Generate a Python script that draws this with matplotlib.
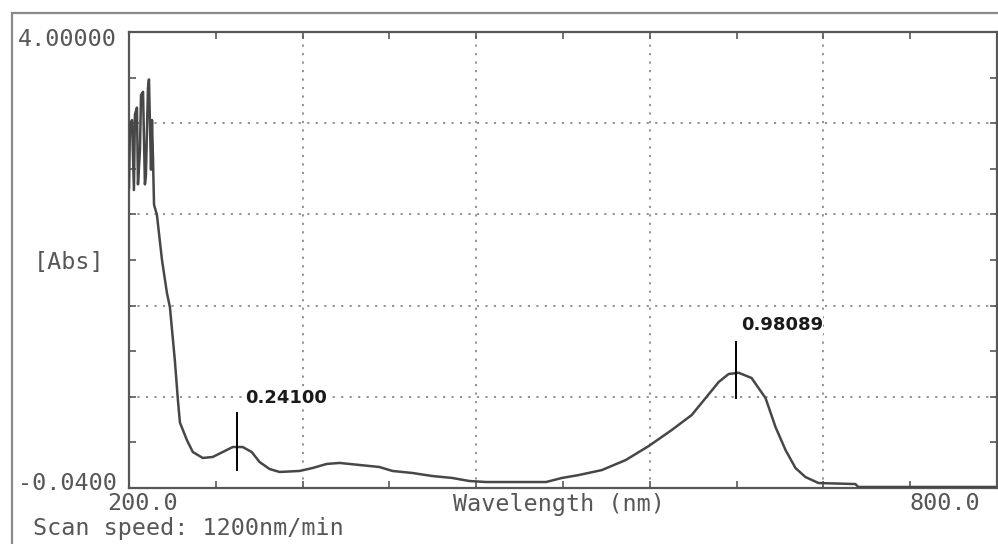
import numpy as np
import matplotlib
matplotlib.use('Agg')
import matplotlib.pyplot as plt
from matplotlib.patches import Rectangle

# ── spectrum ────────────────────────────────────
wavelength = [200.0, 200.7, 202.1, 203.4, 204.1, 205.5, 206.2, 207.6, 208.3, 209.7,
              211.0, 211.7, 213.1, 213.8, 215.2, 215.9, 216.6, 217.3, 219.3,
              222.8, 226.2, 228.3, 231.7, 233.8, 235.2, 240.0, 244.1, 251.0,
              257.9, 264.8, 271.7, 278.6, 284.8, 290.3, 297.2, 304.1, 317.9,
              326.9, 336.6, 345.5, 359.3, 373.1, 382.1, 395.9, 409.7, 423.4,
              435.2, 446.9, 464.8, 488.3, 499.3, 511.0, 526.9, 543.4, 559.3,
              575.2, 589.0, 598.6, 607.6, 614.5, 621.4, 630.3, 640.0, 646.9,
              653.8, 660.7, 667.6, 676.6, 702.1, 704.1, 798.6]
absorbance = [2.62, 3.18, 3.22, 2.60, 3.27, 3.33, 2.65, 2.96, 3.44, 3.47,
              2.65, 2.73, 3.50, 3.58, 2.78, 3.22, 2.87, 2.47, 2.38,
              1.98, 1.69, 1.56, 1.09, 0.74, 0.54, 0.385, 0.279, 0.226,
              0.235, 0.279, 0.323, 0.323, 0.279, 0.190, 0.128, 0.102, 0.111,
              0.137, 0.173, 0.182, 0.164, 0.146, 0.111, 0.093, 0.066, 0.049,
              0.022, 0.013, 0.013, 0.013, 0.049, 0.075, 0.119, 0.208, 0.332,
              0.474, 0.607, 0.757, 0.899, 0.970, 0.981, 0.935, 0.757, 0.500,
              0.297, 0.137, 0.057, 0.004, -0.005, -0.031, -0.031]

# peak markers: (wavelength, line bottom, line top, label)
peak_wl = [274.5, 619.3]
peak_lo = [0.12, 0.757]
peak_hi = [0.624, 1.254]
peak_labels = ['0.24100', '0.98089']
label_pos = [(280.0, 0.757), (622.8, 1.404)]

x_min, x_max = 200.0, 800.0
y_min, y_max = -0.04, 4.0

GRAY = '#575757'
MONO = 'DejaVu Sans Mono'
FS = 16.8

fig = plt.figure(figsize=(9.98, 5.44), dpi=100)
fig.patch.set_facecolor('white')

# outer instrument frame
fig.patches.append(Rectangle((12 / 998, -0.1), 1.2, 1 - 13 / 544 + 0.1,
                             transform=fig.transFigure, fill=False,
                             edgecolor='#8a8a8a', linewidth=1.6))

ax = fig.add_axes([129 / 998, 1 - 488 / 544, 868 / 998, 456 / 544])
ax.set_xlim(x_min, x_max)
ax.set_ylim(y_min, y_max)

ax.set_xticks(np.linspace(x_min, x_max, 6))
ax.set_xticks(np.linspace(x_min, x_max, 11), minor=True)
ax.set_yticks(np.linspace(y_min, y_max, 6))
ax.set_yticks(np.linspace(y_min, y_max, 11), minor=True)
ax.tick_params(which='both', direction='in', top=True, right=True,
               labelbottom=False, labelleft=False, length=5,
               width=1.2, color=GRAY)
ax.grid(True, which='major', color='#8a8a8a', linestyle=(0, (1.2, 3.5)),
        linewidth=1.3)
for spine in ax.spines.values():
    spine.set_edgecolor(GRAY)
    spine.set_linewidth(1.6)

ax.plot(wavelength, absorbance, color='#474747', linewidth=1.8, zorder=3)

for wl, lo, hi in zip(peak_wl, peak_lo, peak_hi):
    ax.plot([wl, wl], [lo, hi], color='black', linewidth=1.4, zorder=4)
for lab, (lx, ly) in zip(peak_labels, label_pos):
    ax.text(lx, ly, lab, fontsize=13, fontweight='bold', color='#1a1a1a',
            ha='left', va='center', zorder=5,
            bbox=dict(facecolor='white', edgecolor='none', pad=0.5))

# instrument-style axis annotations
fig.text(18 / 998, 1 - 40 / 544, '4.00000', family=MONO, fontsize=FS,
         color=GRAY, ha='left', va='center')
fig.text(18 / 998, 1 - 483 / 544, '-0.0400', family=MONO, fontsize=FS,
         color=GRAY, ha='left', va='center')
fig.text(34 / 998, 1 - 262 / 544, '[Abs]', family=MONO, fontsize=FS,
         color=GRAY, ha='left', va='center')
fig.text(143 / 998, 1 - 504 / 544, '200.0', family=MONO, fontsize=FS,
         color=GRAY, ha='center', va='center')
fig.text(559 / 998, 1 - 504 / 544, 'Wavelength (nm)', family=MONO,
         fontsize=FS, color=GRAY, ha='center', va='center')
fig.text(945 / 998, 1 - 504 / 544, '800.0', family=MONO, fontsize=FS,
         color=GRAY, ha='center', va='center')
fig.text(33 / 998, 1 - 528 / 544, 'Scan speed: 1200nm/min', family=MONO,
         fontsize=FS, color=GRAY, ha='left', va='center')

plt.savefig('out.png', dpi=100, facecolor='white')
